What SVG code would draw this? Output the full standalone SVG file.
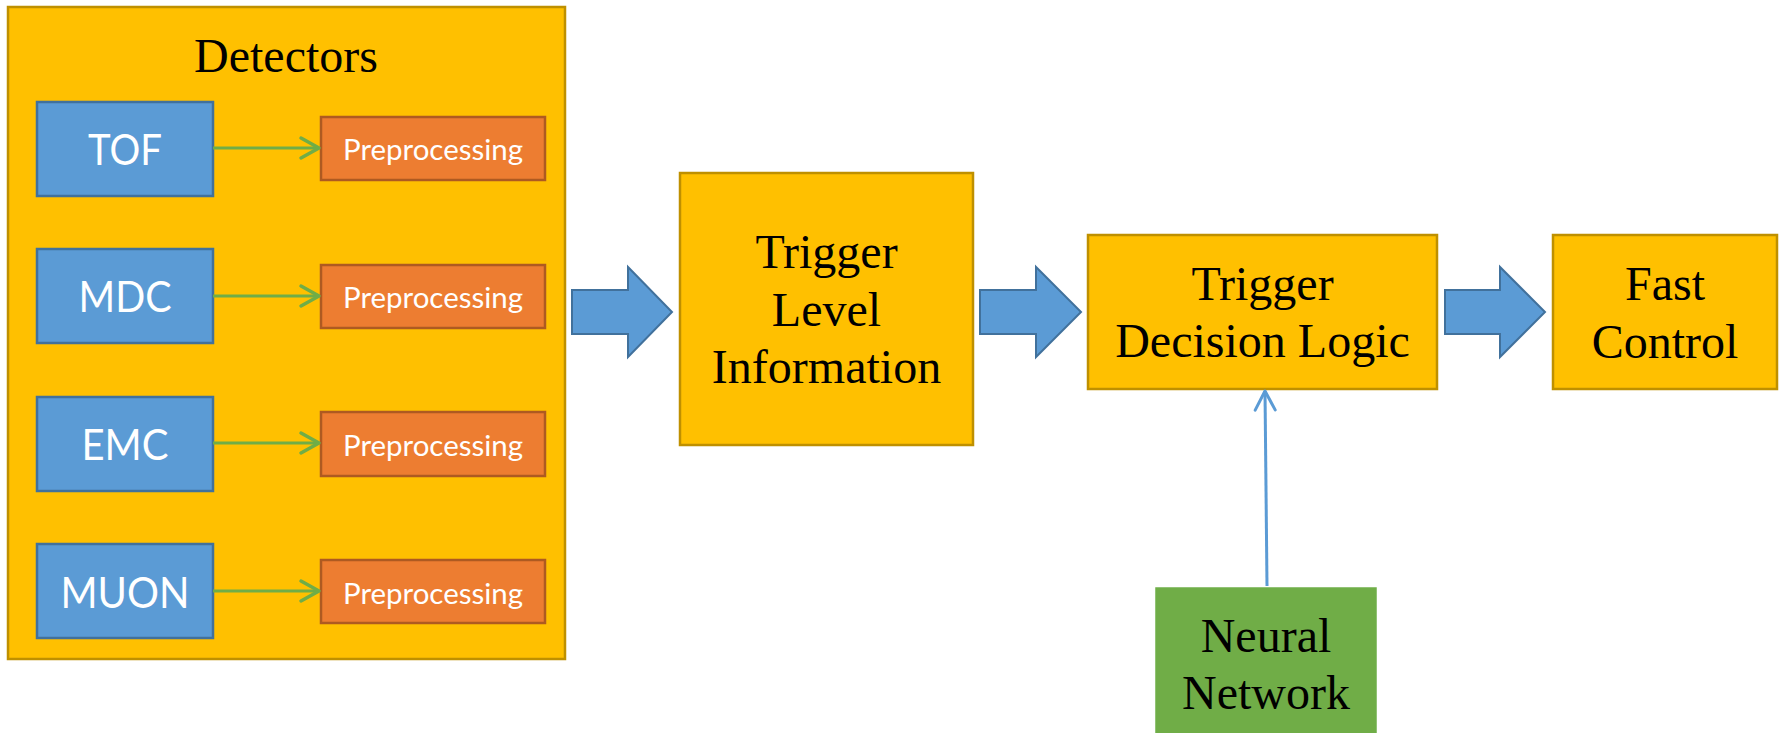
<svg xmlns="http://www.w3.org/2000/svg" width="1779" height="733" viewBox="0 0 1779 733">
<style>
.yel{fill:#FFC000;stroke:#BF9000;stroke-width:2.5}
.blu{fill:#5B9BD5;stroke:#41719C;stroke-width:2.5}
.org{fill:#ED7D31;stroke:#AE5A21;stroke-width:2.5}
.grn{fill:#70AD47;stroke:#6FAF48;stroke-width:1.5}
.ser{font-family:"Liberation Serif","Times New Roman",serif;font-size:48px;fill:#000;text-anchor:middle}
.det{font-family:Lato,"Open Sans",sans-serif;font-size:42px;fill:#fff;text-anchor:middle}
.pre{font-family:Lato,"Open Sans",sans-serif;font-size:28px;fill:#fff;text-anchor:middle}
.big{fill:#5B9BD5;stroke:#41719C;stroke-width:2}
.gl{stroke:#70AD47;stroke-width:3;fill:none}
.bl{stroke:#5B9BD5;stroke-width:3;fill:none}
</style>
<defs>
<marker id="gArr" markerUnits="userSpaceOnUse" viewBox="-24 -14 28 28" markerWidth="28" markerHeight="28" refX="0" refY="0" orient="auto">
<path d="M-18,-10 L0,0 L-18,10" fill="none" stroke="#70AD47" stroke-width="3.5" stroke-linecap="round" stroke-linejoin="round"/>
</marker>
<marker id="bArr" markerUnits="userSpaceOnUse" viewBox="-24 -14 28 28" markerWidth="28" markerHeight="28" refX="0" refY="0" orient="auto">
<path d="M-19,-10 L0,0 L-19,10" fill="none" stroke="#5B9BD5" stroke-width="3" stroke-linecap="round" stroke-linejoin="round"/>
</marker>
</defs>
<rect width="1779" height="733" fill="#fff"/>

<g id="detectors">
<rect class="yel" x="8" y="7" width="557" height="652"/>
<text class="ser" x="286" y="72">Detectors</text>
</g>

<g id="tof"><rect class="blu" x="37" y="102" width="176" height="94"/><text class="det" x="125" y="165" textLength="74" lengthAdjust="spacingAndGlyphs">TOF</text></g>
<g id="mdc"><rect class="blu" x="37" y="249" width="176" height="94"/><text class="det" x="125" y="312" textLength="93" lengthAdjust="spacingAndGlyphs">MDC</text></g>
<g id="emc"><rect class="blu" x="37" y="397" width="176" height="94"/><text class="det" x="125" y="460" textLength="87" lengthAdjust="spacingAndGlyphs">EMC</text></g>
<g id="muon"><rect class="blu" x="37" y="544" width="176" height="94"/><text class="det" x="125" y="608" textLength="129" lengthAdjust="spacingAndGlyphs">MUON</text></g>

<g id="pre1"><rect class="org" x="321" y="117" width="224" height="63"/><text class="pre" x="433" y="160" textLength="180" lengthAdjust="spacingAndGlyphs">Preprocessing</text></g>
<g id="pre2"><rect class="org" x="321" y="265" width="224" height="63"/><text class="pre" x="433" y="308" textLength="180" lengthAdjust="spacingAndGlyphs">Preprocessing</text></g>
<g id="pre3"><rect class="org" x="321" y="412" width="224" height="64"/><text class="pre" x="433" y="456" textLength="180" lengthAdjust="spacingAndGlyphs">Preprocessing</text></g>
<g id="pre4"><rect class="org" x="321" y="560" width="224" height="63"/><text class="pre" x="433" y="604" textLength="180" lengthAdjust="spacingAndGlyphs">Preprocessing</text></g>

<g id="tli"><rect class="yel" x="680" y="173" width="293" height="272"/>
<text class="ser" x="826.5" y="268">Trigger</text>
<text class="ser" x="826.5" y="326">Level</text>
<text class="ser" x="826.5" y="383">Information</text></g>

<g id="tdl"><rect class="yel" x="1088" y="235" width="349" height="154"/>
<text class="ser" x="1262.5" y="300">Trigger</text>
<text class="ser" x="1262.5" y="357">Decision Logic</text></g>

<g id="fc"><rect class="yel" x="1553" y="235" width="224" height="154"/>
<text class="ser" x="1665" y="300">Fast</text>
<text class="ser" x="1665" y="358">Control</text></g>

<g id="nn"><rect class="grn" x="1156" y="588" width="220" height="150"/>
<text class="ser" x="1266" y="652">Neural</text>
<text class="ser" x="1266" y="709">Network</text></g>

<g id="connectors">
<line class="gl" x1="213" y1="148" x2="319" y2="148" marker-end="url(#gArr)"/>
<line class="gl" x1="213" y1="296" x2="319" y2="296" marker-end="url(#gArr)"/>
<line class="gl" x1="213" y1="443" x2="319" y2="443" marker-end="url(#gArr)"/>
<line class="gl" x1="213" y1="591" x2="319" y2="591" marker-end="url(#gArr)"/>
<polygon class="big" points="572,290 628,290 628,267 672,312 628,357 628,334 572,334"/>
<polygon class="big" points="980,290 1036,290 1036,267 1081,312 1036,357 1036,334 980,334"/>
<polygon class="big" points="1445,290 1500,290 1500,267 1545,312 1500,357 1500,334 1445,334"/>
<line class="bl" x1="1267" y1="586" x2="1265" y2="391" marker-end="url(#bArr)"/>
</g>
</svg>
